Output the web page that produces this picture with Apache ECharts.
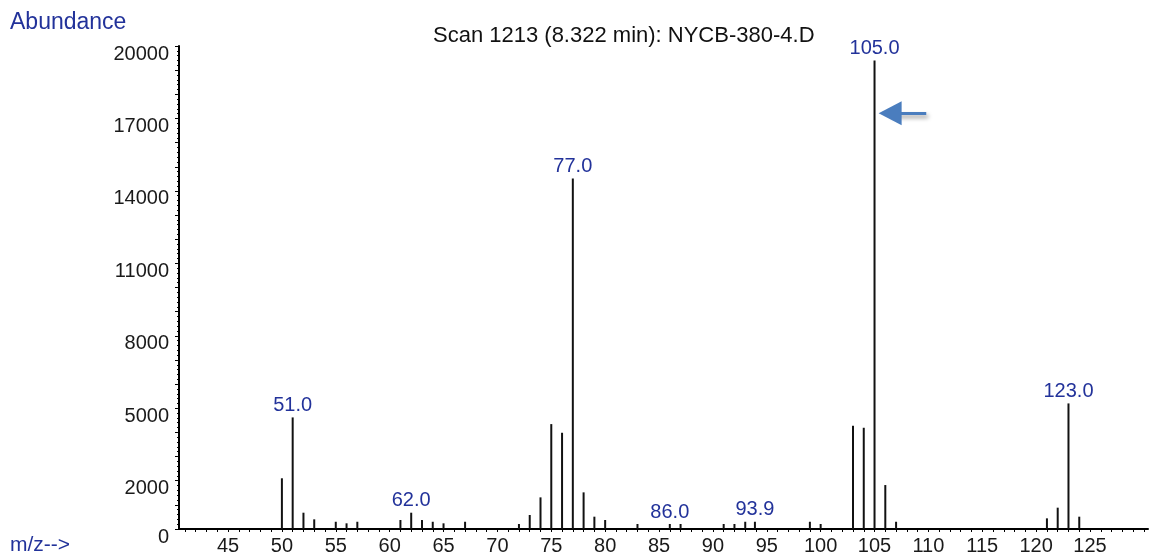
<!DOCTYPE html>
<html>
<head>
<meta charset="utf-8">
<title>Scan 1213 (8.322 min): NYCB-380-4.D</title>
<script src="https://cdn.jsdelivr.net/npm/echarts@6/dist/echarts.min.js"></script>
<style>
    html, body { margin: 0; padding: 0; background: #fff; }
    #chart { width: 1151px; height: 558px; }
</style>
</head>
<body>
<div id="chart"></div>
<script>
    // ion m/z and abundance
    var masses = [50, 51, 52, 53, 55, 56, 57, 61, 62, 63, 64, 65, 67,
        72, 73, 74, 75, 76, 77, 78, 79, 80, 83, 86, 87, 91, 92, 93, 93.9,
        99, 100, 103, 104, 105, 106, 107, 121, 122, 123, 124];
    var abundance = [2100, 4620, 675, 400, 300, 235, 300, 372, 675, 372, 300, 235, 300,
        207, 580, 1310, 4344, 3985, 14510, 1517, 510, 372, 207, 207, 207, 207, 207, 300, 300,
        300, 207, 4275, 4192, 19404, 1820, 300, 441, 883, 5200, 510];
    // peaks that carry an m/z label
    var labelledMasses = [51, 62, 77, 86, 93.9, 105, 123];

    var xTickLabels = [45, 50, 55, 60, 65, 70, 75, 80, 85, 90, 95, 100, 105, 110, 115, 120, 125];
    var yTickLabels = [0, 2000, 5000, 8000, 11000, 14000, 17000, 20000];

    // the blue arrow pointing at the base peak
    var arrowTail = [109.8, 17220];
    var arrowHead = [106.45, 17220];

    var FONT = 'Liberation Sans, Arial, sans-serif';
    var BLUE = '#22329a';

    var xTicks = [];
    for (var t = 41; t <= 130; t++) xTicks.push(t);

    var peaks = masses.map(function (m, i) {
        var item = { value: [m, abundance[i]] };
        if (labelledMasses.indexOf(m) >= 0) item.label = { show: true };
        return item;
    });

    var chart = echarts.init(document.getElementById('chart'));
    chart.setOption({
        animation: false,
        title: [
            {
                text: 'Abundance', left: 10, top: 11, padding: 0,
                textStyle: { color: BLUE, fontSize: 23, fontWeight: 'normal', fontFamily: FONT }
            },
            {
                text: 'Scan 1213 (8.322 min): NYCB-380-4.D', left: 433, top: 25, padding: 0,
                textStyle: { color: '#111', fontSize: 22, fontWeight: 'normal', fontFamily: FONT }
            },
            {
                text: 'm/z-->', left: 10, top: 535, padding: 0,
                textStyle: { color: BLUE, fontSize: 21, fontWeight: 'normal', fontFamily: FONT }
            }
        ],
        grid: { left: 179, right: 3, top: 46, bottom: 29 },
        xAxis: {
            type: 'value',
            min: 40.45,
            max: 130.38,
            axisLine: { show: true, onZero: false, lineStyle: { color: '#000', width: 2 } },
            axisTick: { show: true, customValues: xTicks, length: 3, lineStyle: { color: '#000', width: 1 } },
            axisLabel: {
                customValues: xTickLabels, color: '#1a1a1a', fontSize: 20,
                fontFamily: FONT, margin: 7
            },
            splitLine: { show: false }
        },
        yAxis: {
            type: 'value',
            min: 0,
            max: 20000,
            interval: 1000,
            axisLine: { show: true, lineStyle: { color: '#000', width: 2 } },
            axisTick: { show: true, length: 4, lineStyle: { color: '#000', width: 1 } },
            minorTick: { show: true, splitNumber: 5, length: 2, lineStyle: { color: '#000', width: 1 } },
            axisLabel: {
                customValues: yTickLabels, color: '#1a1a1a', fontSize: 20, fontFamily: FONT,
                verticalAlign: 'top', lineHeight: 16, margin: 10,
                formatter: function (v) { return String(v); }
            },
            splitLine: { show: false }
        },
        series: [{
            type: 'bar',
            data: peaks,
            barWidth: 2,
            itemStyle: { color: '#111' },
            label: {
                show: false,
                position: 'top',
                distance: 2,
                color: BLUE,
                fontSize: 20,
                fontFamily: FONT,
                formatter: function (p) { return p.value[0].toFixed(1); }
            },
            markLine: {
                silent: true,
                symbol: ['none', 'triangle'],
                symbolSize: [24, 23],
                label: { show: false },
                lineStyle: {
                    color: '#4a7dbe', width: 3, type: 'solid',
                    shadowBlur: 4, shadowColor: 'rgba(0,0,0,0.4)', shadowOffsetX: 2, shadowOffsetY: 3
                },
                data: [[{ coord: arrowTail }, { coord: arrowHead }]]
            }
        }]
    });
</script>
</body>
</html>
